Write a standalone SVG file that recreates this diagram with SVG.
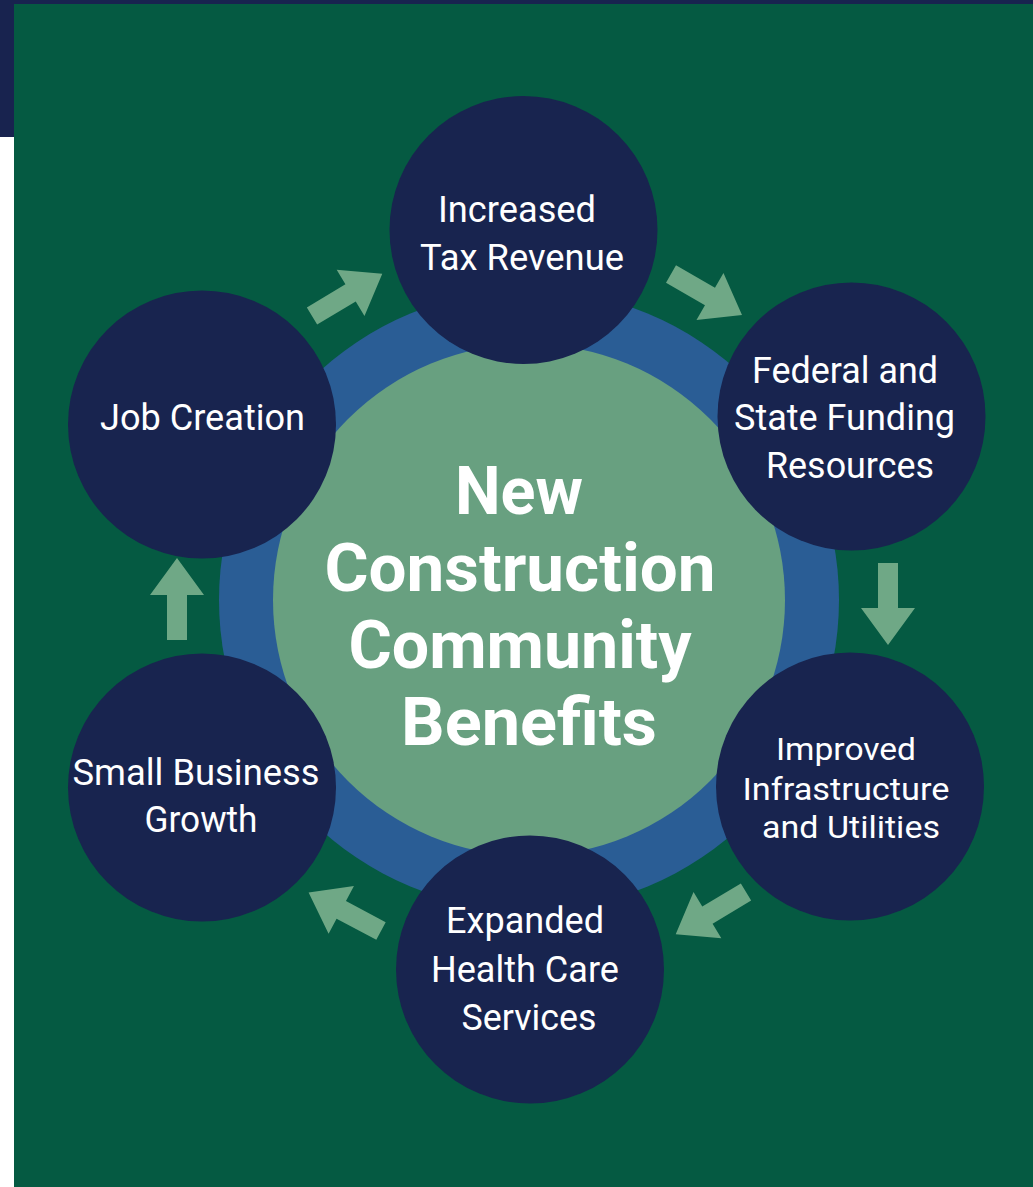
<svg xmlns="http://www.w3.org/2000/svg" width="1033" height="1187" viewBox="0 0 1033 1187">
<style>
.node{fill:#18244f}
.nt{font-family:Roboto,"Liberation Sans",sans-serif;font-size:37px;fill:#ffffff;text-anchor:middle}
.nt2{font-family:Roboto,"Liberation Sans",sans-serif;font-size:31px;fill:#ffffff;text-anchor:middle}
.ct{font-family:Roboto,"Liberation Sans",sans-serif;font-weight:bold;font-size:66px;fill:#ffffff;text-anchor:middle}
.arr{fill:#6fa886}
</style>
<defs>
<path id="arrow" d="M0,-10 L45,-10 L45,-27 L82,0 L45,27 L45,10 L0,10 Z"/>
</defs>
<rect x="0" y="0" width="1033" height="1187" fill="#ffffff"/>
<rect x="0" y="0" width="1033" height="137" fill="#18234f"/>
<rect x="14" y="4" width="1019" height="1183" fill="#055a42"/>
<g id="center">
<circle cx="529" cy="600" r="310" fill="#2a5d95"/>
<circle cx="529" cy="600" r="256" fill="#68a080"/>
<text class="ct" x="519" y="514" textLength="128" lengthAdjust="spacingAndGlyphs">New</text>
<text class="ct" x="520" y="591" textLength="391" lengthAdjust="spacingAndGlyphs">Construction</text>
<text class="ct" x="520" y="668" textLength="343" lengthAdjust="spacingAndGlyphs">Community</text>
<text class="ct" x="529" y="745" textLength="256" lengthAdjust="spacingAndGlyphs">Benefits</text>
</g>
<g id="connectors" class="arr">
<use href="#arrow" transform="translate(312,316) rotate(-31)"/>
<use href="#arrow" transform="translate(671,274) rotate(30)"/>
<use href="#arrow" transform="translate(888,563) rotate(90)"/>
<use href="#arrow" transform="translate(746,892) rotate(149)"/>
<use href="#arrow" transform="translate(381,931) rotate(208)"/>
<use href="#arrow" transform="translate(177,640) rotate(-90)"/>
</g>
<g id="tax">
<circle class="node" cx="523.5" cy="230" r="134"/>
<text class="nt" x="517" y="222" textLength="158" lengthAdjust="spacingAndGlyphs">Increased</text>
<text class="nt" x="522" y="270" textLength="204" lengthAdjust="spacingAndGlyphs">Tax Revenue</text>
</g>
<g id="federal">
<circle class="node" cx="851.5" cy="416.5" r="134"/>
<text class="nt" x="845" y="383" textLength="186" lengthAdjust="spacingAndGlyphs">Federal and</text>
<text class="nt" x="844.5" y="430" textLength="221" lengthAdjust="spacingAndGlyphs">State Funding</text>
<text class="nt" x="850" y="478" textLength="168" lengthAdjust="spacingAndGlyphs">Resources</text>
</g>
<g id="infrastructure">
<circle class="node" cx="850" cy="786.5" r="134"/>
<text class="nt2" x="846" y="760" textLength="140" lengthAdjust="spacingAndGlyphs">Improved</text>
<text class="nt2" x="846" y="800" textLength="207" lengthAdjust="spacingAndGlyphs">Infrastructure</text>
<text class="nt2" x="851" y="838" textLength="178" lengthAdjust="spacingAndGlyphs">and Utilities</text>
</g>
<g id="health">
<circle class="node" cx="530" cy="969.5" r="134"/>
<text class="nt" x="525" y="933" textLength="158" lengthAdjust="spacingAndGlyphs">Expanded</text>
<text class="nt" x="525" y="982" textLength="188" lengthAdjust="spacingAndGlyphs">Health Care</text>
<text class="nt" x="529" y="1030" textLength="135" lengthAdjust="spacingAndGlyphs">Services</text>
</g>
<g id="smallbusiness">
<circle class="node" cx="202" cy="787.5" r="134"/>
<text class="nt" x="196" y="785" textLength="247" lengthAdjust="spacingAndGlyphs">Small Business</text>
<text class="nt" x="201" y="832" textLength="113" lengthAdjust="spacingAndGlyphs">Growth</text>
</g>
<g id="job">
<circle class="node" cx="202" cy="424.5" r="134"/>
<text class="nt" x="202.5" y="430" textLength="205" lengthAdjust="spacingAndGlyphs">Job Creation</text>
</g>
</svg>
